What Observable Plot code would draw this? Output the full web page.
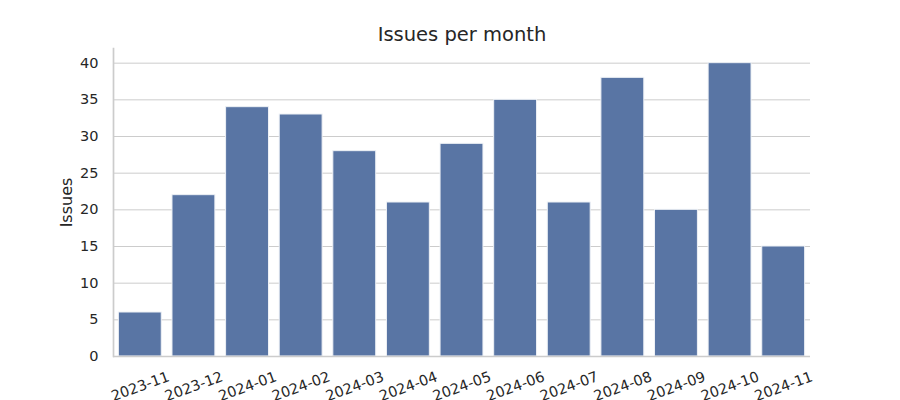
<!DOCTYPE html>
<html>
<head>
<meta charset="utf-8">
<script src="https://cdn.jsdelivr.net/npm/d3@7"></script>
<script src="https://cdn.jsdelivr.net/npm/@observablehq/plot@0.6"></script>
<style>
  html, body { margin: 0; padding: 0; background: white; }
</style>
</head>
<body>
<div id="chart"></div>
<script>
const months = ["2023-11","2023-12","2024-01","2024-02","2024-03","2024-04","2024-05","2024-06","2024-07","2024-08","2024-09","2024-10","2024-11"];
const issues = [6, 22, 34, 33, 28, 21, 29, 35, 21, 38, 20, 40, 15];
const yTicks = [0, 5, 10, 15, 20, 25, 30, 35, 40];
const title = "Issues per month";
const yLabel = "Issues";

const data = months.map((m, i) => ({month: m, issues: issues[i]}));

const chart = Plot.plot({
  width: 900,
  height: 400,
  marginLeft: 113,
  marginRight: 90,
  marginTop: 48,
  marginBottom: 44,
  style: {fontFamily: "DejaVu Sans", fontSize: "14.5px", color: "#262626", background: "white"},
  x: {domain: months, paddingInner: 0.2, paddingOuter: 0.1, round: false, axis: null},
  y: {domain: [0, 42], axis: null},
  marks: [
    Plot.gridY(yTicks, {stroke: "#cccccc", strokeOpacity: 1, strokeWidth: 1}),
    Plot.barY(data, {x: "month", y: "issues", fill: "#5975a4", stroke: "#eef1f6", strokeWidth: 1}),
    Plot.ruleY([0], {stroke: "#cccccc", strokeWidth: 1.7}),
    Plot.frame({anchor: "left", stroke: "#cccccc", strokeWidth: 1.7}),
    Plot.axisY(yTicks, {tickSize: 0, tickPadding: 15, label: null, fontSize: 14.5, fill: "#262626"}),
    Plot.text(months, {x: d => d, frameAnchor: "bottom", dy: 30, rotate: -20, textAnchor: "middle", lineAnchor: "middle", fontSize: 14.5, fill: "#262626"}),
    Plot.text([yLabel], {frameAnchor: "left", dx: -47, rotate: -90, textAnchor: "middle", lineAnchor: "middle", fontSize: 16, fill: "#262626"}),
    Plot.text([title], {frameAnchor: "top", dy: -14, textAnchor: "middle", lineAnchor: "middle", fontSize: 19.5, fill: "#262626"})
  ]
});
document.getElementById("chart").appendChild(chart);
</script>
</body>
</html>
